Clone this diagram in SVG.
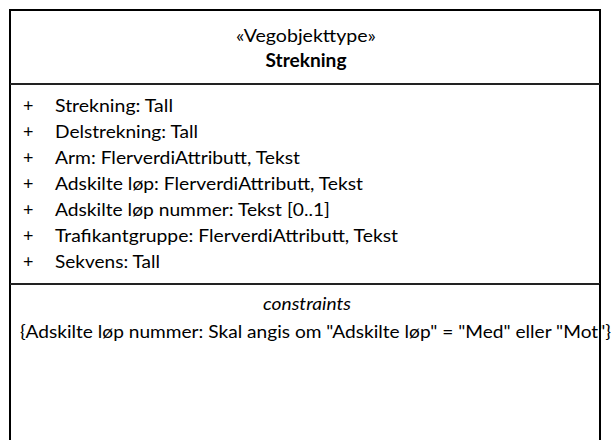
<svg xmlns="http://www.w3.org/2000/svg" width="613" height="440" viewBox="0 0 613 440">
<style>
  .t { font-family: Lato, "Open Sans", "Liberation Sans", sans-serif; font-size: 18px; fill: #000; }
  .c { text-anchor: middle; }
  .b { font-weight: bold; }
  .i { font-style: italic; }
  .box { fill: #fff; stroke: #000; stroke-width: 2; }
  .div { stroke: #222; stroke-width: 2; fill: none; }
</style>
<rect width="613" height="440" fill="#fff"/>
<g id="strekning">
  <rect class="box" x="10" y="10" width="590" height="445"/>
  <line class="div" x1="10" y1="84" x2="600" y2="84"/>
  <line class="div" x1="10" y1="284" x2="600" y2="284"/>
  <text class="t c" x="306" y="42" textLength="140" lengthAdjust="spacingAndGlyphs">«Vegobjekttype»</text>
  <text class="t c b" x="306" y="67" textLength="81" lengthAdjust="spacingAndGlyphs">Strekning</text>
  <g>
    <text class="t" x="23" y="111.5">+</text>
    <text class="t" x="55" y="111.5" textLength="118" lengthAdjust="spacingAndGlyphs">Strekning: Tall</text>
    <text class="t" x="23" y="137.6">+</text>
    <text class="t" x="55" y="137.6" textLength="143" lengthAdjust="spacingAndGlyphs">Delstrekning: Tall</text>
    <text class="t" x="23" y="163.7">+</text>
    <text class="t" x="55" y="163.7" textLength="245" lengthAdjust="spacingAndGlyphs">Arm: FlerverdiAttributt, Tekst</text>
    <text class="t" x="23" y="189.8">+</text>
    <text class="t" x="55" y="189.8" textLength="308" lengthAdjust="spacingAndGlyphs">Adskilte løp: FlerverdiAttributt, Tekst</text>
    <text class="t" x="23" y="215.9">+</text>
    <text class="t" x="55" y="215.9" textLength="275" lengthAdjust="spacingAndGlyphs">Adskilte løp nummer: Tekst [0..1]</text>
    <text class="t" x="23" y="242">+</text>
    <text class="t" x="55" y="242" textLength="343" lengthAdjust="spacingAndGlyphs">Trafikantgruppe: FlerverdiAttributt, Tekst</text>
    <text class="t" x="23" y="268.1">+</text>
    <text class="t" x="55" y="268.1" textLength="105" lengthAdjust="spacingAndGlyphs">Sekvens: Tall</text>
  </g>
  <text class="t c i" x="307" y="310" textLength="88" lengthAdjust="spacingAndGlyphs">constraints</text>
  <text class="t" x="20" y="338" textLength="591" lengthAdjust="spacingAndGlyphs">{Adskilte løp nummer: Skal angis om "Adskilte løp" = "Med" eller "Mot"}</text>
  <line x1="600" y1="284" x2="600" y2="440" stroke="#000" stroke-width="2"/>
</g>
<g id="connectors"/>
</svg>
